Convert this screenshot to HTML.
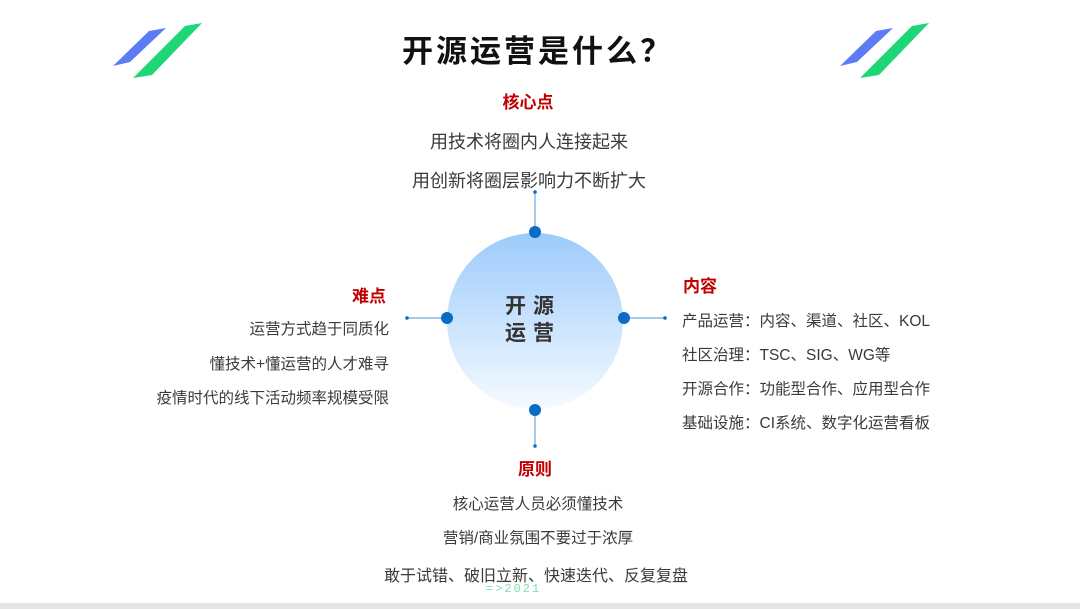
<!DOCTYPE html>
<html><head><meta charset="utf-8"><style>
body{margin:0;width:1080px;height:609px;background:#fff;position:relative;overflow:hidden;font-family:"Liberation Sans","Noto Sans CJK SC",sans-serif;color:#333}
.t{position:absolute;white-space:nowrap}
.h{color:#c00000;font-weight:bold;font-size:17px}
.b{font-size:18px;color:#3a3a3a}
.s{font-size:15.5px;color:#3a3a3a}
</style></head><body>
<svg width="1080" height="609" style="position:absolute;left:0;top:0">
<defs><linearGradient id="g" x1="0" y1="0" x2="0" y2="1"><stop offset="0" stop-color="#9ccbfb"/><stop offset="1" stop-color="#f6faff"/></linearGradient></defs>
<polygon points="113,66 149,31 166,28 130,62" fill="#5b7cf5"/>
<polygon points="133,78 185,26 202,23 152,75" fill="#1ed676"/>
<polygon points="840,66 876,31 893,28 857,62" fill="#5b7cf5"/>
<polygon points="860,78 912,26 929,23 879,75" fill="#1ed676"/>
<circle cx="535" cy="321" r="88" fill="url(#g)"/>
<g stroke="#4a9ad8" stroke-width="1"><line x1="535" y1="192" x2="535" y2="232"/><line x1="407" y1="318" x2="448" y2="318"/><line x1="623" y1="318" x2="665" y2="318"/><line x1="535" y1="410" x2="535" y2="446"/></g>
<g fill="#0a6cc4"><circle cx="535" cy="192" r="1.8"/><circle cx="407" cy="318" r="1.8"/><circle cx="665" cy="318" r="1.8"/><circle cx="535" cy="446" r="1.8"/>
<circle cx="535" cy="232" r="6"/><circle cx="447" cy="318" r="6"/><circle cx="624" cy="318" r="6"/><circle cx="535" cy="410" r="6"/></g>
<rect x="0" y="603" width="1080" height="6" fill="#e6e6e6"/>
</svg>
<div class="t" style="left:0;width:1076px;text-align:center;top:26px;font-size:31px;font-weight:bold;color:#111;letter-spacing:3px">开源运营是什么？</div>
<div class="t" style="left:505px;top:293px;font-size:21px;font-weight:bold;color:#333;line-height:27px;letter-spacing:7px">开源<br>运营</div>
<div class="t h" style="left:0;width:1056px;text-align:center;top:88px">核心点</div>
<div class="t b" style="left:0;width:1058px;text-align:center;top:128px">用技术将圈内人连接起来</div>
<div class="t b" style="left:0;width:1058px;text-align:center;top:167px">用创新将圈层影响力不断扩大</div>
<div class="t h" style="left:352px;top:282px">难点</div>
<div class="t s" style="right:691px;top:317px">运营方式趋于同质化</div>
<div class="t s" style="right:691px;top:352px">懂技术+懂运营的人才难寻</div>
<div class="t s" style="right:691px;top:386px">疫情时代的线下活动频率规模受限</div>
<div class="t h" style="left:683px;top:272px">内容</div>
<div class="t s" style="left:682px;top:309px">产品运营：内容、渠道、社区、KOL</div>
<div class="t s" style="left:682px;top:343px">社区治理：TSC、SIG、WG等</div>
<div class="t s" style="left:682px;top:377px">开源合作：功能型合作、应用型合作</div>
<div class="t s" style="left:682px;top:411px">基础设施：CI系统、数字化运营看板</div>
<div class="t h" style="left:0;width:1070px;text-align:center;top:455px">原则</div>
<div class="t s" style="left:0;width:1076px;text-align:center;top:492px">核心运营人员必须懂技术</div>
<div class="t s" style="left:0;width:1076px;text-align:center;top:526px">营销/商业氛围不要过于浓厚</div>
<div class="t" style="left:0;width:1072px;text-align:center;top:562px;font-size:16px;color:#3a3a3a">敢于试错、破旧立新、快速迭代、反复复盘</div>
<div class="t" style="left:486px;top:582px;font-family:'Liberation Mono',monospace;font-size:12px;color:#7fe0b0;letter-spacing:2px">=&gt;2021</div>
</body></html>
